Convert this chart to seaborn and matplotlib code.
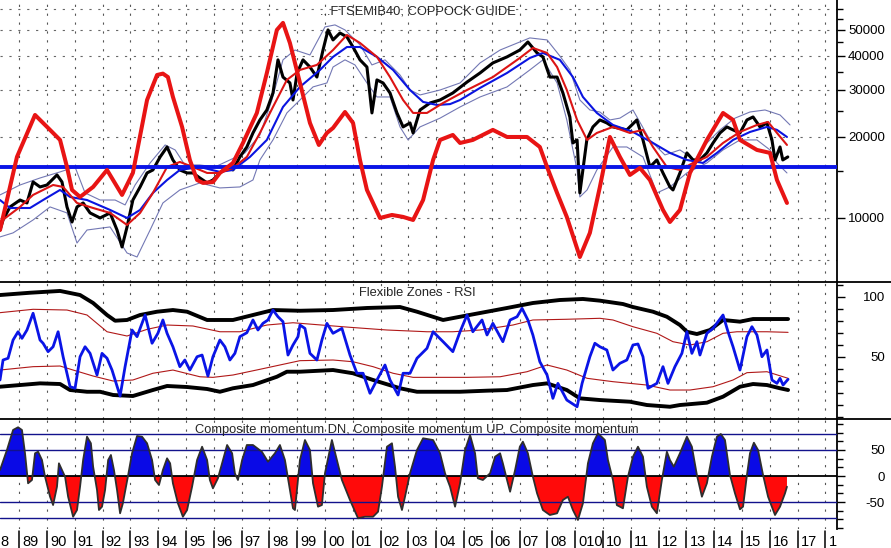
import matplotlib
matplotlib.use('Agg')
import matplotlib.pyplot as plt
from matplotlib.lines import Line2D
from matplotlib.ticker import FixedLocator, FixedFormatter, NullFormatter
import numpy as np
import seaborn as sns

# ---- top panel: FTSE MIB 40 with moving averages, envelope and Coppock guide ----
price_yr = [1988.31, 1988.42, 1988.67, 1989.03, 1989.28, 1989.50, 1989.75, 1990.00, 1990.36, 1990.54,
            1990.72, 1990.90, 1991.08, 1991.30, 1991.55, 1991.91, 1992.27, 1992.52, 1992.70, 1992.88,
            1993.09, 1993.35, 1993.60, 1993.81, 1994.07, 1994.32, 1994.53, 1994.78, 1995.04, 1995.25,
            1995.50, 1995.76, 1995.97, 1996.22, 1996.48, 1996.69, 1996.94, 1997.19, 1997.41, 1997.66,
            1997.91, 1998.13, 1998.31, 1998.49, 1998.74, 1998.85, 1999.00, 1999.21, 1999.46, 1999.71,
            1999.93, 2000.11, 2000.29, 2000.54, 2000.79, 2001.01, 2001.26, 2001.51, 2001.69, 2001.87,
            2002.09, 2002.34, 2002.59, 2002.81, 2003.06, 2003.17, 2003.42, 2003.78, 2004.14, 2004.60,
            2005.11, 2005.58, 2006.04, 2006.55, 2007.01, 2007.30, 2007.63, 2007.84, 2008.09, 2008.35,
            2008.56, 2008.81, 2008.92, 2009.07, 2009.17, 2009.42, 2009.64, 2009.89, 2010.14, 2010.36,
            2010.86, 2011.22, 2011.44, 2011.69, 2011.94, 2012.16, 2012.41, 2012.52, 2012.77, 2013.02,
            2013.24, 2013.49, 2013.74, 2013.96, 2014.21, 2014.46, 2014.68, 2014.93, 2015.18, 2015.40,
            2015.65, 2015.90, 2016.08, 2016.19, 2016.37, 2016.47, 2016.65]
price_val = [9020, 9830, 10990, 11660, 11370, 13610, 13040, 13260, 14450, 13610,
             10990, 9660, 10990, 11370, 10440, 10000, 10440, 9020, 7800, 9260,
             11660, 13040, 14700, 15080, 16860, 18360, 16430, 15080, 14700, 14700,
             14080, 13500, 13840, 14700, 15470, 15080, 16860, 18360, 20700, 23140,
             25200, 29150, 38700, 33400, 31760, 27450, 34600, 38700, 36400, 33400,
             42100, 50000, 45900, 48700, 47100, 43200, 38700, 36400, 24570, 32600,
             31760, 29150, 24570, 21800, 22550, 20700, 25200, 26760, 27450, 29150,
             32000, 34600, 37700, 39700, 42100, 45100, 41060, 39700, 33400, 33400,
             29150, 23740, 19000, 19500, 12390, 19500, 21800, 23140, 22550, 21800,
             21250, 23140, 19500, 15470, 16430, 14700, 13040, 12710, 14700, 17450,
             16430, 16430, 17450, 19000, 20700, 21800, 21250, 20700, 23140, 23740,
             21800, 22550, 19500, 16430, 18360, 16430, 16860]

cop_yr = [1988.31, 1988.92, 1989.57, 1990.11, 1990.47, 1990.72, 1990.90, 1991.19, 1991.66, 1992.16,
          1992.70, 1993.09, 1993.60, 1993.96, 1994.17, 1994.35, 1994.53, 1994.86, 1995.14, 1995.40,
          1995.61, 1995.97, 1996.22, 1996.69, 1997.05, 1997.55, 1997.91, 1998.27, 1998.49, 1998.74,
          1999.10, 1999.46, 1999.78, 2000.07, 2000.29, 2000.72, 2001.01, 2001.26, 2001.51, 2001.98,
          2002.41, 2002.81, 2003.17, 2003.53, 2003.89, 2004.14, 2004.60, 2004.86, 2005.32, 2006.04,
          2006.55, 2007.27, 2007.73, 2007.99, 2008.35, 2008.70, 2009.17, 2009.53, 2009.89, 2010.25,
          2010.61, 2010.97, 2011.33, 2011.69, 2012.16, 2012.41, 2012.77, 2013.13, 2013.74, 2014.32,
          2014.68, 2014.93, 2015.54, 2016.01, 2016.26, 2016.62]
cop_val = [9020, 16860, 24150, 21250, 19500, 15470, 12710, 11970, 13040, 15080,
           12180, 14700, 27450, 34000, 34400, 33400, 28200, 21800, 16430, 13840,
           13500, 13600, 14700, 16010, 19000, 24560, 34600, 50000, 53100, 44700,
           31800, 22550, 18680, 20700, 21600, 24770, 22550, 16430, 12710, 10000,
           10260, 10090, 9830, 11660, 16430, 19500, 20350, 19000, 19500, 21250,
           20000, 20000, 18360, 15470, 12390, 10090, 7160, 8800, 13040, 20000,
           16860, 14450, 15340, 13840, 10710, 9660, 10710, 14700, 19500, 24560,
           23140, 19500, 17900, 17450, 13840, 11370]

ma_blue_yr = [1988.31, 1988.67, 1989.39, 1989.86, 1990.47, 1990.83, 1991.44, 1992.27, 1992.88, 1993.35,
              1993.81, 1994.32, 1994.78, 1995.50, 1996.22, 1996.69, 1997.30, 1997.91, 1998.49, 1999.10,
              1999.82, 2000.29, 2000.79, 2001.26, 2001.87, 2002.45, 2003.06, 2003.53, 2004.03, 2004.50,
              2004.86, 2005.58, 2006.55, 2007.37, 2007.84, 2008.45, 2008.92, 2009.28, 2009.78, 2010.36,
              2011.08, 2011.80, 2012.41, 2013.02, 2013.60, 2014.10, 2014.68, 2015.29, 2015.90, 2016.26,
              2016.62]
ma_blue_val = [11660, 10890, 10890, 11660, 12710, 11970, 11660, 10710, 10000, 10710,
               12390, 13840, 15080, 15470, 14830, 15080, 16860, 19500, 25860, 30700,
               35500, 39700, 43200, 43200, 39700, 35500, 29900, 27000, 26300, 26500,
               27450, 30440, 34600, 39330, 41060, 38700, 33400, 28170, 24570, 22170,
               20880, 19000, 17450, 16430, 16010, 17450, 19500, 20880, 21800, 21250,
               20000]

ma_red_yr = [1988.31, 1989.03, 1989.50, 1990.22, 1990.58, 1991.08, 1991.66, 1992.27, 1992.88, 1993.35,
             1993.81, 1994.32, 1994.78, 1995.25, 1995.76, 1996.22, 1996.69, 1997.19, 1997.66, 1998.13,
             1998.63, 1999.10, 1999.71, 2000.29, 2000.79, 2001.26, 2001.87, 2002.34, 2002.81, 2003.17,
             2003.67, 2004.25, 2005.11, 2006.04, 2007.01, 2007.48, 2007.99, 2008.35, 2008.70, 2009.07,
             2009.43, 2009.78, 2010.36, 2010.97, 2011.44, 2011.80, 2012.30, 2012.77, 2013.24, 2013.74,
             2014.32, 2014.93, 2015.54, 2015.94, 2016.26, 2016.62]
ma_red_val = [9660, 10990, 12180, 13260, 13040, 11370, 10890, 10440, 9420, 10440,
              12390, 15470, 16150, 15470, 14700, 14700, 15340, 16860, 20700, 25860,
              32600, 35500, 37060, 42100, 47900, 44730, 39700, 33400, 27450, 24570,
              24570, 26760, 29900, 33400, 39330, 42850, 41060, 36400, 29900, 23140,
              19500, 20700, 21800, 20700, 21250, 18360, 15470, 15080, 16010, 16860,
              19000, 20880, 22170, 22750, 20700, 18680]

env_hi_yr = [1988.31, 1989.03, 1989.75, 1990.47, 1991.01, 1991.37, 1991.91, 1992.45, 1992.81, 1993.17,
             1993.71, 1994.25, 1994.61, 1994.96, 1995.50, 1996.04, 1996.58, 1997.12, 1997.66, 1998.09,
             1998.49, 1998.92, 1999.46, 2000.00, 2000.36, 2000.72, 2001.26, 2001.69, 2002.16, 2002.70,
             2003.06, 2003.42, 2004.14, 2004.86, 2005.58, 2006.30, 2007.01, 2007.37, 2007.99, 2008.45,
             2008.81, 2009.17, 2009.53, 2009.89, 2010.25, 2010.61, 2011.08, 2011.69, 2012.23, 2012.77,
             2013.31, 2013.67, 2014.21, 2014.75, 2015.29, 2015.83, 2016.37, 2016.73]
env_hi_val = [12180, 13260, 14080, 14830, 15470, 12390, 11660, 11660, 11180, 13260,
              16010, 18680, 17900, 15740, 15740, 15470, 16430, 17450, 20350, 27450,
              38700, 42100, 40360, 51300, 52200, 50000, 44000, 37060, 38700, 34000,
              29900, 28660, 29900, 31760, 37700, 42100, 45100, 46700, 45900, 40000,
              35500, 27450, 25200, 24770, 23140, 23500, 25200, 19500, 17150, 17900,
              16430, 18680, 21250, 23500, 24770, 25200, 24150, 22170]

env_lo_yr = [1988.31, 1988.78, 1989.50, 1990.11, 1990.72, 1991.08, 1991.44, 1992.27, 1992.88, 1993.24,
             1993.71, 1994.17, 1994.78, 1995.50, 1996.22, 1996.94, 1997.41, 1997.66, 1998.13, 1998.63,
             1999.10, 1999.57, 2000.07, 2000.29, 2000.72, 2001.08, 2001.51, 2001.87, 2002.34, 2002.70,
             2002.99, 2003.42, 2004.14, 2004.86, 2005.58, 2006.55, 2007.37, 2007.84, 2008.35, 2008.70,
             2009.07, 2009.17, 2009.43, 2009.78, 2010.36, 2010.86, 2011.44, 2011.94, 2012.41, 2013.02,
             2013.74, 2014.32, 2014.93, 2015.54, 2016.01, 2016.26, 2016.62]
env_lo_val = [8500, 8800, 9830, 10990, 10440, 8070, 9020, 9260, 7410, 7160,
              9020, 11370, 12710, 13500, 12930, 13040, 13840, 16430, 19500, 24570,
              27450, 30700, 31760, 36400, 38700, 37060, 31760, 28170, 28170, 21800,
              19500, 21800, 23500, 25860, 28170, 30700, 35500, 38700, 31760, 23140,
              15080, 11970, 12710, 15080, 18360, 18360, 16860, 12390, 13040, 14700,
              16010, 17900, 19500, 19500, 17900, 16010, 14700]

guide_level = 15500
price_ticks = [10000, 20000, 30000, 40000, 50000]
price_minor = [15000, 25000, 35000, 45000, 55000, 60000]
price_grid = [7000, 10000, 20000, 30000, 40000, 50000, 60000]

# ---- middle panel: Flexible Zones - RSI ----
rsi_yr = [1988.31, 1988.42, 1988.60, 1988.78, 1988.96, 1989.10, 1989.28, 1989.50, 1989.75, 1989.86,
          1990.04, 1990.22, 1990.40, 1990.58, 1990.83, 1991.01, 1991.19, 1991.37, 1991.55, 1991.80,
          1991.98, 1992.16, 1992.34, 1992.63, 1992.81, 1993.06, 1993.24, 1993.53, 1993.78, 1993.99,
          1994.17, 1994.32, 1994.53, 1994.78, 1994.96, 1995.14, 1995.40, 1995.58, 1995.79, 1995.97,
          1996.22, 1996.40, 1996.58, 1996.76, 1996.94, 1997.19, 1997.41, 1997.59, 1997.77, 1997.95,
          1998.13, 1998.31, 1998.49, 1998.67, 1998.85, 1999.03, 1999.10, 1999.28, 1999.46, 1999.71,
          1999.89, 2000.07, 2000.29, 2000.61, 2000.90, 2001.15, 2001.37, 2001.62, 2001.87, 2002.16,
          2002.34, 2002.63, 2002.81, 2003.06, 2003.31, 2003.67, 2003.89, 2004.25, 2004.60, 2004.86,
          2005.11, 2005.32, 2005.65, 2005.83, 2006.04, 2006.40, 2006.66, 2006.91, 2007.09, 2007.30,
          2007.48, 2007.73, 2007.99, 2008.20, 2008.38, 2008.70, 2009.07, 2009.25, 2009.53, 2009.71,
          2009.89, 2010.14, 2010.36, 2010.61, 2010.86, 2011.08, 2011.26, 2011.44, 2011.62, 2011.94,
          2012.16, 2012.34, 2012.59, 2012.84, 2013.02, 2013.20, 2013.38, 2013.49, 2013.74, 2013.96,
          2014.32, 2014.50, 2014.68, 2014.93, 2015.18, 2015.36, 2015.54, 2015.72, 2015.90, 2016.08,
          2016.26, 2016.37, 2016.48, 2016.66]
rsi_val = [30.6, 47.25, 48.7, 63.9, 70.8, 65.3, 72.25, 86.2, 63.9, 61.2,
           54.2, 58.3, 70.8, 50, 25, 23.7, 50, 58.3, 52.8, 34.75,
           52.8, 48.7, 38.9, 17.25, 41.7, 72.25, 66.7, 84.75, 61.2, 69.5,
           80.6, 69.5, 58.3, 41.7, 47.25, 38.9, 50, 51.4, 33.9, 50,
           63.9, 58.3, 47.25, 52.8, 66.7, 70, 80.6, 72.25, 77.8, 80.6,
           88.9, 83.3, 79.2, 51.4, 59.75, 66.7, 76.4, 73.6, 52.8, 47.25,
           63.9, 77.8, 69.5, 73.6, 51.4, 36.2, 36.2, 19.5, 30.6, 43.1,
           30.6, 18.1, 36.2, 36.2, 48.7, 57, 70.8, 62.5, 54.2, 70.8,
           84.75, 70.8, 80.6, 68.1, 77.8, 62.5, 80.6, 83.3, 90.3, 80.6,
           68.1, 45.8, 34.75, 15.3, 27.8, 13.9, 8.3, 27.8, 50, 61.2,
           58.3, 55.6, 38.9, 44.5, 47.25, 59.75, 60.6, 50, 23.7, 27.8,
           41.7, 27.8, 41.7, 52.8, 70.8, 52.8, 62.5, 51.4, 69.5, 73.6,
           84.75, 70.8, 58.3, 38.9, 66.7, 75, 68.1, 50, 55.6, 30.6,
           27.8, 32, 26.4, 31.2]

zone_hi_yr = [1988.31, 1989.39, 1990.47, 1991.19, 1991.66, 1992.16, 1992.45, 1992.88, 1993.35, 1993.96,
              1994.53, 1995.04, 1995.76, 1996.69, 1997.41, 1998.13, 1999.10, 2000.29, 2001.51, 2002.70,
              2003.31, 2004.25, 2004.86, 2005.83, 2006.55, 2007.48, 2008.45, 2009.28, 2009.89, 2010.72,
              2011.08, 2011.80, 2012.30, 2012.77, 2013.02, 2013.38, 2013.85, 2014.32, 2014.93, 2015.40,
              2016.66]
zone_hi_val = [101.4, 103.3, 104.8, 101.4, 94.75, 84.75, 80, 80.6, 84.75, 87.5,
               88.9, 87.5, 80.6, 80.6, 84.75, 88.9, 88.3, 88.9, 90.6, 91.4,
               87.5, 80.6, 83.3, 87.5, 90.6, 94.75, 97.25, 98.1, 96.7, 93.9,
               91.4, 87.5, 83.3, 76.4, 70.8, 68.9, 72.25, 80.6, 79.2, 81.4,
               81.4]

zone_lo_yr = [1988.31, 1989.03, 1989.75, 1990.47, 1990.83, 1991.44, 1991.91, 1992.38, 1993.09, 1993.81,
              1994.32, 1995.04, 1995.76, 1996.22, 1996.69, 1997.41, 1998.27, 1998.63, 1999.10, 2000.29,
              2001.01, 2001.73, 2002.70, 2003.31, 2004.86, 2005.83, 2006.55, 2007.48, 2007.99, 2008.70,
              2009.17, 2009.89, 2010.97, 2011.58, 2012.41, 2012.77, 2013.74, 2014.32, 2014.93, 2015.40,
              2015.90, 2016.37, 2016.66]
zone_lo_val = [25, 26.4, 27.8, 27.25, 22.25, 20.8, 20.8, 18.1, 17.25, 22.25,
               25.6, 24.75, 23.1, 20.8, 23.7, 26.4, 33.3, 37.5, 37.5, 38.9,
               36.2, 30.6, 23.7, 20.8, 20.8, 21.7, 22.25, 26.4, 27.8, 22.25,
               15.3, 13.9, 12.5, 9.75, 8.3, 9.75, 11.7, 16.7, 25, 27.25,
               26.4, 23.7, 22.25]

mid_hi_yr = [1988.31, 1989.50, 1990.72, 1991.44, 1992.16, 1992.88, 1993.60, 1994.32, 1995.25, 1996.22,
             1996.94, 1997.91, 1998.85, 2000.90, 2002.23, 2003.67, 2004.60, 2005.58, 2006.76, 2007.48,
             2008.70, 2009.89, 2010.36, 2011.08, 2011.94, 2012.52, 2013.13, 2013.74, 2014.32, 2014.82,
             2015.90, 2016.66]
mid_hi_val = [86.7, 89.5, 88.9, 84.75, 70.8, 67.25, 72.8, 76.4, 75.6, 70.8,
              70.8, 76.4, 78.3, 74.5, 72.25, 70.8, 70.8, 72.25, 76.4, 80.6,
              81.2, 82, 80.6, 75, 69.5, 62.5, 59.75, 62.5, 69.5, 70.8,
              70.8, 70.3]

mid_lo_yr = [1988.31, 1989.50, 1990.47, 1990.94, 1991.66, 1992.38, 1993.09, 1993.81, 1994.53, 1995.50,
             1995.97, 1996.69, 1997.66, 1998.38, 1999.10, 2000.29, 2001.01, 2001.73, 2002.45, 2003.17,
             2005.11, 2006.30, 2007.27, 2007.99, 2008.70, 2009.43, 2009.89, 2010.36, 2011.58, 2012.41,
             2013.13, 2013.96, 2014.68, 2015.18, 2015.90, 2016.66]
mid_lo_val = [38.9, 41.7, 42.25, 38.9, 33.9, 29.75, 30.6, 36.2, 38.9, 33.3,
              32.8, 34.75, 39.5, 43.1, 46.7, 47.25, 45.8, 41.7, 36.2, 32.8,
              32.8, 33.3, 37.5, 43.1, 38.9, 32, 30.6, 29.2, 26.4, 22.25,
              22.25, 25, 30.6, 36.7, 37.5, 32]

# ---- bottom panel: composite momentum ----
mom_yr = [1988.31, 1988.56, 1988.78, 1988.96, 1989.10, 1989.21, 1989.32, 1989.46, 1989.57, 1989.68,
          1989.82, 1989.93, 1990.11, 1990.22, 1990.36, 1990.43, 1990.54, 1990.65, 1990.76, 1990.94,
          1991.08, 1991.19, 1991.30, 1991.44, 1991.58, 1991.66, 1991.80, 1991.87, 1991.98, 1992.09,
          1992.20, 1992.30, 1992.41, 1992.52, 1992.63, 1992.73, 1992.91, 1993.06, 1993.24, 1993.42,
          1993.60, 1993.78, 1993.89, 1994.03, 1994.17, 1994.32, 1994.43, 1994.53, 1994.71, 1994.89,
          1995.04, 1995.22, 1995.40, 1995.58, 1995.76, 1995.86, 1995.97, 1996.15, 1996.33, 1996.48,
          1996.66, 1996.76, 1996.87, 1997.02, 1997.19, 1997.41, 1997.73, 1997.95, 1998.20, 1998.38,
          1998.56, 1998.67, 1998.85, 1998.92, 1999.10, 1999.28, 1999.46, 1999.57, 1999.75, 1999.89,
          2000.00, 2000.25, 2000.43, 2000.61, 2000.90, 2001.19, 2001.44, 2001.73, 2001.91, 2002.05,
          2002.23, 2002.41, 2002.52, 2002.63, 2002.77, 2002.88, 2003.06, 2003.31, 2003.53, 2003.89,
          2004.14, 2004.32, 2004.50, 2004.68, 2004.86, 2005.04, 2005.22, 2005.40, 2005.50, 2005.68,
          2005.94, 2006.12, 2006.30, 2006.40, 2006.55, 2006.66, 2006.84, 2007.01, 2007.12, 2007.30,
          2007.48, 2007.63, 2007.84, 2008.09, 2008.35, 2008.56, 2008.74, 2008.92, 2009.10, 2009.28,
          2009.46, 2009.64, 2009.82, 2010.07, 2010.18, 2010.36, 2010.50, 2010.72, 2010.90, 2011.08,
          2011.26, 2011.44, 2011.58, 2011.76, 2011.94, 2012.12, 2012.30, 2012.41, 2012.55, 2012.77,
          2013.02, 2013.20, 2013.38, 2013.56, 2013.74, 2013.92, 2014.10, 2014.24, 2014.39, 2014.57,
          2014.75, 2014.93, 2015.04, 2015.18, 2015.29, 2015.43, 2015.58, 2015.76, 2015.94, 2016.19,
          2016.37, 2016.55, 2016.62]
mom_val = [11.5, 50, 88.5, 93.7, 88.5, 43.7, -14, -7.7, 43.7, 46.7,
           30.8, -1.3, -39.8, -55.8, -20.6, 24.4, 11.5, -1.3, -39.8, -78.3,
           -65.4, -20.6, 30.8, 75.6, 62.9, 17.9, -26.9, -65.4, -59, -26.9,
           30.8, 40.4, 11.5, -26.9, -71.7, -52.5, -1.3, 43.7, 76.9, 75.6,
           62.9, 30.8, -7.7, -17.3, 11.5, 34, 24.4, -14, -52.5, -78.3,
           -65.4, -20.6, 30.8, 56.3, 30.8, -7.7, -23.7, -4.4, 30.8, 59.6,
           43.7, 5.2, -7.7, 30.8, 59.6, 59.6, 46.7, 27.5, 43.7, 59.6,
           30.8, -4.4, -62.1, -65.4, 30.8, 69.2, 50, -14, -59, -55.8,
           5.2, 69.2, 30.8, -7.7, -46.2, -81.3, -78.3, -78.3, -68.7, -20.6,
           56.3, 62.9, 17.9, -39.8, -65.4, -39.8, 5.2, 50, 72.5, 69.2,
           43.7, 5.2, -20.6, -59, -14, 50, 78.8, 43.7, -4.4, -7.7,
           5.2, 37.1, 43.7, 24.4, -7.7, -30.2, 11.5, 56.3, 66, 43.7,
           -1.3, -33.3, -65.4, -75, -71.7, -46.2, -39.8, -65.4, -84.6, -52.5,
           24.4, 62.9, 82.1, 69.2, 30.8, -7.7, -56, -62.1, -1.3, 37.1,
           56.3, 37.1, -20.6, -59, -71.7, -7.7, 46.7, 30.8, 17.9, 43.7,
           75.6, 56.3, 1.9, -39.8, -14, 37.1, 75.6, 80.8, 69.2, 1.9,
           -33.3, -64, -59, 1.9, 43.7, 64, 50, 1.9, -39.8, -75,
           -59, -33.3, -20.6]
mom_levels = [-80, -50, 50, 80]

# year strip: separators at each year start, labels as printed on the chart
year_marks = list(range(1988, 2019))
year_labels = ['8', '89', '90', '91', '92', '93', '94', '95', '96', '97', '98', '99', '00', '01', '02',
               '03', '04', '05', '06', '07', '08', '010', '10', '11', '12', '13', '14', '15', '16',
               '17', '1']

sns.set_style('white')
plt.rcParams['font.family'] = ['Liberation Sans', 'DejaVu Sans']

X0, X1 = 1988.31, 2018.42
fig = plt.figure(figsize=(8.91, 5.48), dpi=100)
W = 837 / 891
ax1 = fig.add_axes([0, 1 - 282 / 548, W, 282 / 548])
ax2 = fig.add_axes([0, 1 - 419 / 548, W, 137 / 548])
ax3 = fig.add_axes([0, 1 - 529 / 548, W, 110 / 548])
axl = fig.add_axes([0, 0, W, 19 / 548])
ax1.set_yscale('log')


def draw(ax, x, y, color, lw, z):
    sns.lineplot(x=x, y=y, ax=ax, color=color, linewidth=lw, estimator=None,
                 errorbar=None, sort=False, legend=False, zorder=z)


dots = (0, (2, 6))
for ax in (ax1, ax2, ax3):
    ax.vlines(year_marks[1:], 0, 1, transform=ax.get_xaxis_transform(), colors='#555555',
              linestyles=dots, lw=0.8, zorder=0.5)
ax1.hlines(price_grid, 0, 1, transform=ax1.get_yaxis_transform(), colors='#666666',
           linestyles=dots, lw=0.8, zorder=0.5)

# top panel
draw(ax1, env_hi_yr, env_hi_val, '#7378b4', 0.8, 2)
draw(ax1, env_lo_yr, env_lo_val, '#7378b4', 0.8, 2)
draw(ax1, price_yr, price_val, 'black', 2.2, 3)
draw(ax1, ma_blue_yr, ma_blue_val, '#0a14e0', 1.5, 4)
draw(ax1, ma_red_yr, ma_red_val, '#dc1414', 1.5, 4)
ax1.axhline(guide_level, color='#0a14e6', lw=2.8, zorder=5)
draw(ax1, cop_yr, cop_val, '#e81414', 2.9, 6)

# middle panel
draw(ax2, mid_hi_yr, mid_hi_val, '#b01818', 0.8, 2)
draw(ax2, mid_lo_yr, mid_lo_val, '#b01818', 0.8, 2)
draw(ax2, zone_hi_yr, zone_hi_val, 'black', 2.8, 3)
draw(ax2, zone_lo_yr, zone_lo_val, 'black', 2.8, 3)
draw(ax2, rsi_yr, rsi_val, '#0a14e6', 2.0, 4)

# bottom panel
mx = np.array(mom_yr)
my = np.array(mom_val)
ax3.fill_between(mx, my, 0, where=my >= 0, interpolate=True, color='#0a0ae6', lw=0, zorder=2)
ax3.fill_between(mx, my, 0, where=my <= 0, interpolate=True, color='#ff0a0a', lw=0, zorder=2)
for lv in mom_levels:
    ax3.axhline(lv, color='#12128c', lw=1.0, zorder=3)
ax3.axhline(0, color='black', lw=1.3, zorder=3)
draw(ax3, mom_yr, mom_val, '#2e2e2e', 1.3, 4)


def right_axis(ax, major, labels, minor):
    ax.set_xlim(X0, X1)
    ax.yaxis.tick_right()
    for s in ('top', 'bottom', 'left'):
        ax.spines[s].set_visible(False)
    ax.spines['right'].set_linewidth(1.3)
    ax.spines['right'].set_color('black')
    ax.set_xticks([])
    ax.set_xlabel('')
    ax.set_ylabel('')
    ax.yaxis.set_major_locator(FixedLocator(major))
    ax.yaxis.set_major_formatter(FixedFormatter(labels))
    ax.yaxis.set_minor_locator(FixedLocator(minor))
    ax.yaxis.set_minor_formatter(NullFormatter())
    ax.tick_params(axis='y', which='major', left=False, right=True, direction='out', length=6,
                   width=1, pad=28.5, labelsize=9.5, colors='black')
    ax.tick_params(axis='y', which='minor', left=False, right=True, direction='out', length=4,
                   width=1, colors='black')
    for t in ax.get_yticklabels():
        t.set_horizontalalignment('right')


ax1.set_ylim(5780, 64600)
right_axis(ax1, price_ticks, [str(v) for v in price_ticks], price_minor)
ax2.set_ylim(-1.9, 112.25)
right_axis(ax2, [50, 100], ['50', '100'], [0, 10, 20, 30, 40, 60, 70, 80, 90, 110])
ax3.set_ylim(-101.9, 109.6)
right_axis(ax3, [-50, 0, 50], ['-50', '0', '50'],
           [-100, -83.3, -66.7, -33.3, -16.7, 16.7, 33.3, 66.7, 83.3, 100])

# year strip under the bottom panel
axl.set_xlim(X0, X1)
axl.set_ylim(0, 1)
axl.axis('off')
for yr, lab in zip(year_marks, year_labels):
    axl.axvline(yr, ymin=0, ymax=0.9, color='black', lw=1.1)
    # the first year's separator sits off the left edge; only its last digit shows
    tx = X0 + 0.03 if yr == year_marks[0] else yr + 0.11
    axl.text(tx, 0.1, lab, fontsize=10.5, color='black', ha='left', va='baseline')

# panel separators
for yf in (1 - 282 / 548, 1 - 419 / 548):
    fig.add_artist(Line2D([0, 1], [yf, yf], transform=fig.transFigure, color='black', lw=1.3))

fig.text(418 / 891, 1 - 12 / 548, '...FTSEMIB40, COPPOCK GUIDE', ha='center', va='center', fontsize=9.3)
fig.text(417 / 891, 1 - 292.5 / 548, 'Flexible Zones - RSI', ha='center', va='center', fontsize=9.3)
fig.text(417 / 891, 1 - 430 / 548, 'Composite momentum DN, Composite momentum UP, Composite momentum',
         ha='center', va='center', fontsize=9.3)

fig.savefig('out.png', dpi=100)
